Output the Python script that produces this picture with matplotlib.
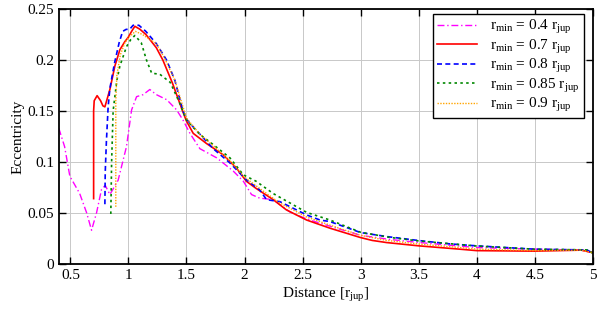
import matplotlib
matplotlib.use('Agg')
import matplotlib.pyplot as plt
from matplotlib.ticker import FuncFormatter

plt.rcParams['font.family'] = ['Liberation Serif', 'DejaVu Serif']
plt.rcParams['mathtext.fontset'] = 'custom'
plt.rcParams['mathtext.rm'] = 'Liberation Serif'
plt.rcParams['mathtext.it'] = 'Liberation Serif'

# r_min = 0.4
x04 = [0.40, 0.45, 0.495, 0.58, 0.64, 0.682, 0.725, 0.768, 0.80, 0.84, 0.911, 0.983,
       1.027, 1.07, 1.127, 1.184, 1.24, 1.33, 1.415, 1.47, 1.53, 1.615, 1.76, 1.903,
       1.99, 2.06, 2.13, 2.247, 2.39, 2.535, 2.736, 3.0, 3.25, 3.5, 4.0, 4.5, 4.9, 5.0]
y04 = [0.133, 0.115, 0.086, 0.069, 0.050, 0.033, 0.050, 0.073, 0.077, 0.068, 0.082, 0.115,
       0.151, 0.164, 0.166, 0.171, 0.166, 0.161, 0.151, 0.141, 0.128, 0.113, 0.104, 0.091,
       0.081, 0.068, 0.0645, 0.063, 0.051, 0.044, 0.037, 0.028, 0.024, 0.021, 0.016, 0.0145, 0.0135, 0.011]

# r_min = 0.7
x07 = [0.70, 0.70, 0.705, 0.73, 0.76, 0.78, 0.797, 0.84, 0.883, 0.926, 0.969, 0.997,
       1.027, 1.055, 1.10, 1.15, 1.24, 1.296, 1.38, 1.466, 1.50, 1.558, 1.673, 1.816, 1.93,
       2.016, 2.1, 2.247, 2.36, 2.535, 2.736, 3.0, 3.1, 3.225, 3.5, 3.857, 4.0, 4.5, 4.9, 5.0]
y07 = [0.064, 0.150, 0.160, 0.165, 0.160, 0.155, 0.154, 0.171, 0.194, 0.210, 0.218, 0.222,
       0.228, 0.233, 0.230, 0.225, 0.212, 0.200, 0.177, 0.150, 0.140, 0.128, 0.118, 0.107, 0.094,
       0.081, 0.074, 0.063, 0.053, 0.043, 0.035, 0.0258, 0.023, 0.0209, 0.0177, 0.0144, 0.013, 0.0125, 0.0135, 0.011]

# r_min = 0.8
x08 = [0.797, 0.80, 0.81, 0.825, 0.84, 0.88, 0.92, 0.95, 0.98, 1.01, 1.04, 1.09,
       1.15, 1.24, 1.328, 1.40, 1.47, 1.50, 1.56, 1.73, 1.874, 2.016, 2.13, 2.19, 2.305,
       2.535, 2.65, 2.736, 3.0, 3.225, 3.5, 3.77, 4.0, 4.5, 4.95, 5.0]
y08 = [0.0585, 0.09, 0.12, 0.154, 0.172, 0.197, 0.217, 0.228, 0.230, 0.230, 0.234, 0.234,
       0.228, 0.216, 0.200, 0.180, 0.150, 0.142, 0.134, 0.113, 0.099, 0.0824, 0.0726, 0.063, 0.061,
       0.048, 0.043, 0.0415, 0.0307, 0.0268, 0.0229, 0.0196, 0.0177, 0.0144, 0.0137, 0.0105]

# r_min = 0.85
x085 = [0.848, 0.855, 0.868, 0.90, 0.926, 0.983, 1.02, 1.055, 1.11, 1.155, 1.20, 1.27,
        1.36, 1.44, 1.50, 1.615, 1.73, 1.874, 1.99, 2.1, 2.247, 2.535, 2.736, 3.0,
        3.25, 3.5, 4.0, 4.5, 4.95, 5.0]
y085 = [0.049, 0.10, 0.150, 0.180, 0.194, 0.213, 0.220, 0.224, 0.217, 0.200, 0.187, 0.186,
        0.178, 0.158, 0.141, 0.127, 0.117, 0.104, 0.0873, 0.081, 0.069, 0.0505, 0.043, 0.031,
        0.026, 0.0225, 0.0175, 0.0144, 0.0137, 0.0105]

# r_min = 0.9
x09 = [0.891, 0.891, 0.90, 0.93, 0.97, 1.01, 1.06, 1.12, 1.24, 1.31, 1.40, 1.47, 1.50,
       1.615, 1.73, 1.874, 2.0, 2.13, 2.3, 2.535, 2.736, 3.0, 3.225, 3.5, 3.857,
       4.0, 4.5, 4.9, 5.0]
y09 = [0.056, 0.16, 0.185, 0.205, 0.217, 0.223, 0.228, 0.225, 0.216, 0.202, 0.180, 0.154, 0.143,
       0.127, 0.116, 0.101, 0.085, 0.074, 0.060, 0.046, 0.038, 0.028, 0.023, 0.0195, 0.016,
       0.0145, 0.013, 0.0135, 0.011]

labels = [r'$\mathrm{r_{min}}$ = 0.4 $\mathrm{r_{jup}}$',
          r'$\mathrm{r_{min}}$ = 0.7 $\mathrm{r_{jup}}$',
          r'$\mathrm{r_{min}}$ = 0.8 $\mathrm{r_{jup}}$',
          r'$\mathrm{r_{min}}$ = 0.85 $\mathrm{r_{jup}}$',
          r'$\mathrm{r_{min}}$ = 0.9 $\mathrm{r_{jup}}$']

fig = plt.figure(figsize=(6.0, 3.09), dpi=100)
ax = fig.add_axes([0.098, 0.146, 0.89, 0.825])

ax.plot(x04, y04, color='#ff00ff', lw=1.0, ls=(0, (5, 2, 1, 2)), label=labels[0])
ax.plot(x07, y07, color='#ff0000', lw=1.2, ls='-', label=labels[1])
ax.plot(x08, y08, color='#0000ff', lw=1.2, ls=(0, (3, 2)), label=labels[2])
ax.plot(x085, y085, color='#008800', lw=1.2, ls=(0, (1.5, 2)), label=labels[3])
ax.plot(x09, y09, color='#ffa500', lw=1.0, ls=(0, (1, 1)), label=labels[4])

ax.set_xlim(0.4, 5.0)
ax.set_ylim(0, 0.25)
ax.set_xticks([0.5, 1, 1.5, 2, 2.5, 3, 3.5, 4, 4.5, 5])
ax.set_yticks([0, 0.05, 0.1, 0.15, 0.2, 0.25])
ax.xaxis.set_major_formatter(FuncFormatter(lambda v, p: '%g' % v))
ax.yaxis.set_major_formatter(FuncFormatter(lambda v, p: '%g' % v))
ax.tick_params(direction='in', top=True, right=True, length=5, width=1, labelsize=11)
ax.grid(True, color='#c8c8c8', lw=0.7)
for s in ax.spines.values():
    s.set_linewidth(1.3)

ax.set_xlabel(r'Distance [$\mathrm{r_{jup}}$]', fontsize=11, labelpad=3)
ax.set_ylabel('Eccentricity', fontsize=11, labelpad=2)

leg = ax.legend(loc='upper right', fontsize=11, fancybox=False, framealpha=1,
                edgecolor='black', handlelength=2.6, borderpad=0.26, labelspacing=0.1,
                handletextpad=0.9, borderaxespad=0, bbox_to_anchor=(0.983, 0.98))
leg.get_frame().set_linewidth(1.0)

fig.savefig('out.png', dpi=100)
